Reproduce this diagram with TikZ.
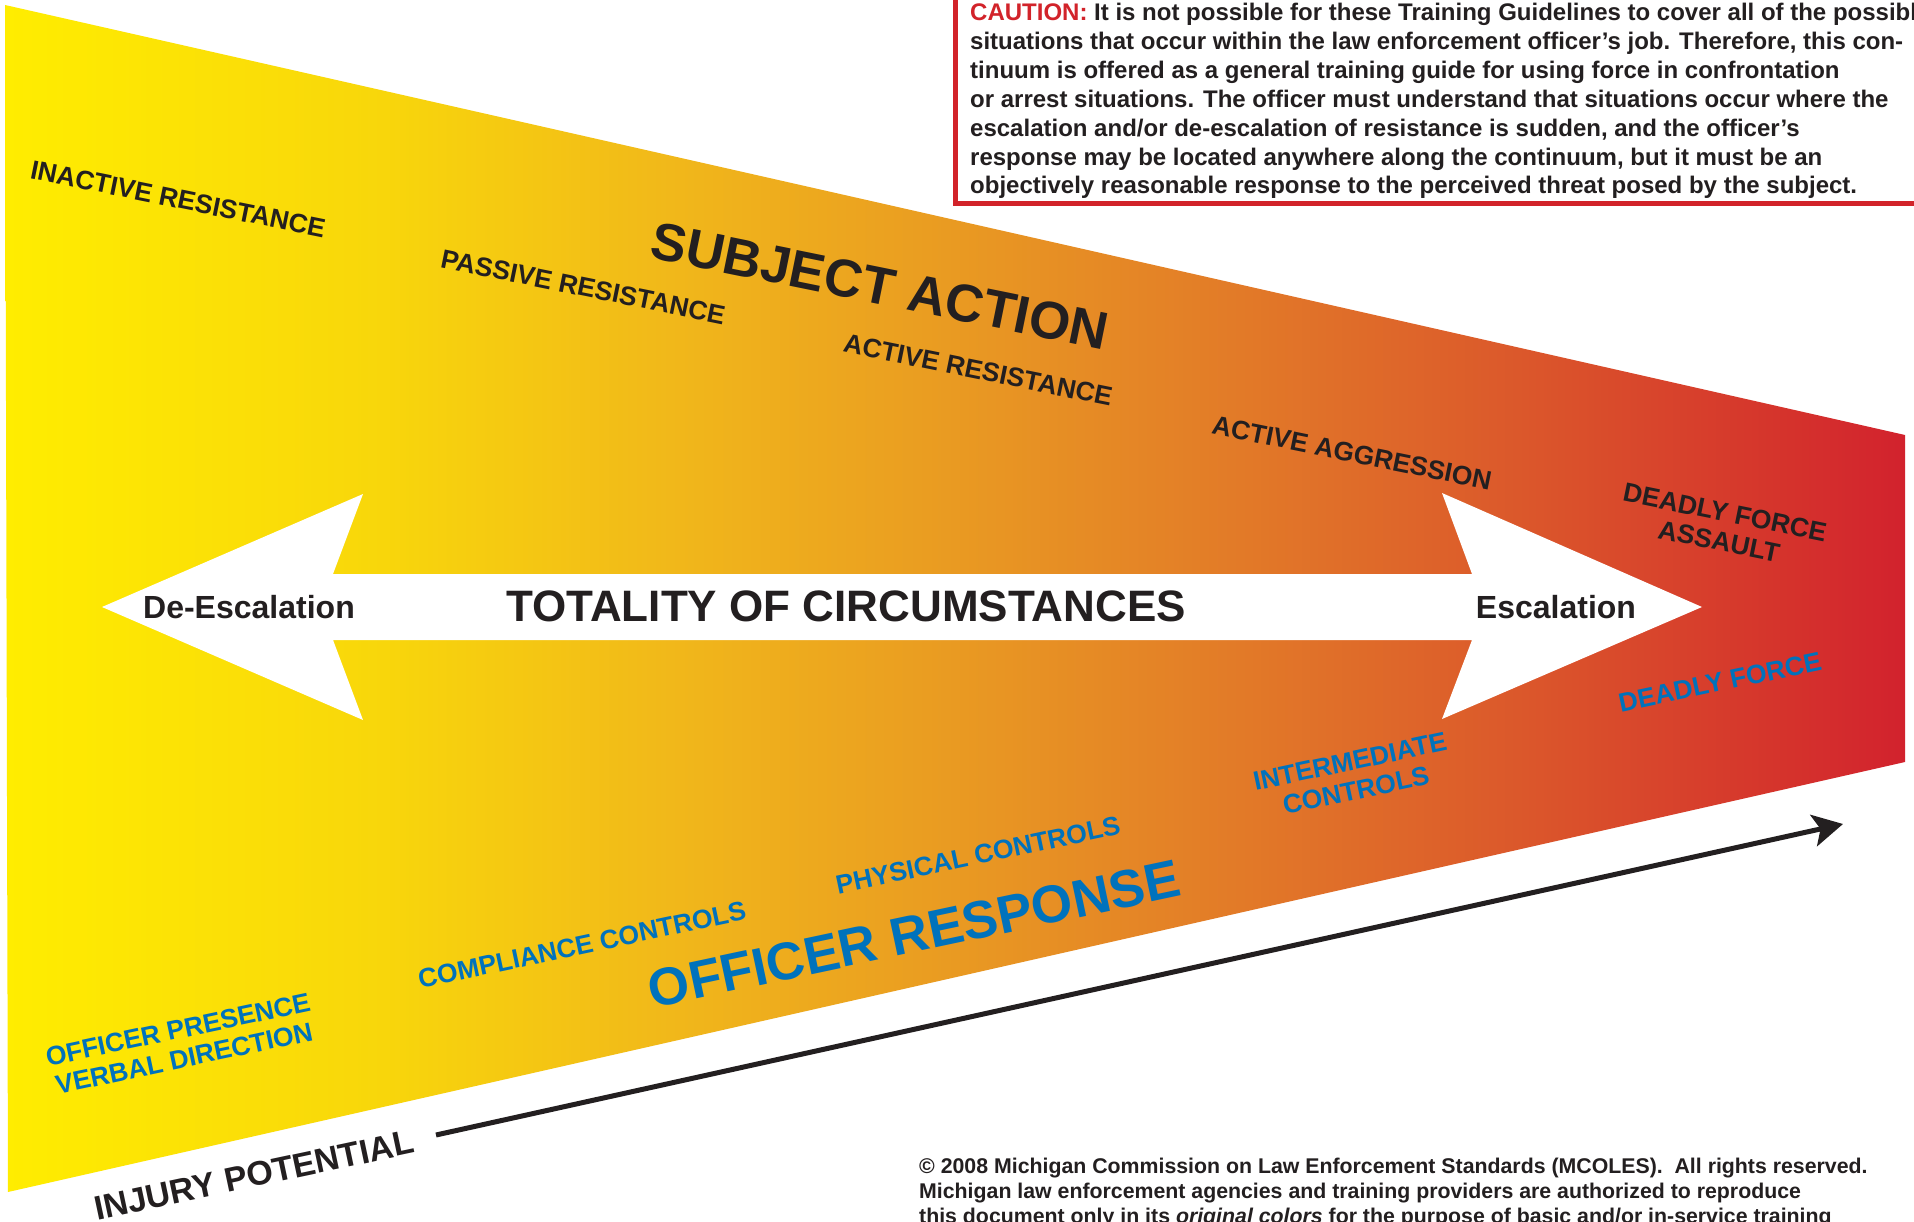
\documentclass[tikz,border=0pt]{standalone}
\usepackage{fontspec}
\setmainfont{Liberation Sans}
\usetikzlibrary{arrows.meta}
\definecolor{ink}{HTML}{231F20}
\definecolor{mblue}{HTML}{0072BC}
\definecolor{cred}{HTML}{D2232A}
\definecolor{g0}{HTML}{FFED00}
\definecolor{g1}{HTML}{F8D60B}
\definecolor{g2}{HTML}{F1B81A}
\definecolor{g3}{HTML}{E99A22}
\definecolor{g4}{HTML}{E27A28}
\definecolor{g5}{HTML}{DB572B}
\definecolor{g6}{HTML}{D2222D}
\pgfdeclarehorizontalshading{contgrad}{100bp}{color(0bp)=(g0); color(25bp)=(g0); color(35bp)=(g1); color(42.5bp)=(g2); color(50bp)=(g3); color(57.5bp)=(g4); color(65bp)=(g5); color(75bp)=(g6); color(100bp)=(g6)}
\tikzset{
  lbl/.style={font=\fontsize{26.5}{29.5}\selectfont\bfseries, inner sep=0pt, align=center},
  blk/.style={lbl, text=ink, rotate=-11.5},
  blu/.style={lbl, text=mblue, rotate=12},
  bigblk/.style={blk, font=\fontsize{53}{60}\selectfont\bfseries},
  bigblu/.style={blu, font=\fontsize{53}{60}\selectfont\bfseries},
  arrtxt/.style={inner sep=0pt, text=ink, font=\fontsize{32}{36}\selectfont\bfseries},
  notetxt/.style={inner sep=0pt, text=ink, align=left, anchor=north west}
}
\begin{document}
\begin{tikzpicture}[x=1pt,y=-1pt]
\useasboundingbox (0,0) rectangle (1914,1222);
\clip (0,0) rectangle (1914,1222);
\fill[white] (0,0) rectangle (1914,1222);
% continuum band
\shade[shading=contgrad] (5,5) -- (1905,435) -- (1905,762) -- (8,1192) -- cycle;
% double arrow
\fill[white] (102,607) -- (363,494) -- (333,574) -- (1472,574) -- (1442,493) -- (1702,607)
  -- (1442,719) -- (1472,640) -- (333,640) -- (363,720) -- cycle;
\node[arrtxt] (deesc) at (249,607) {De-Escalation};
\node[arrtxt] (esc) at (1556,607) {Escalation};
\node[arrtxt, font=\fontsize{44}{48}\selectfont\bfseries] (total) at (846,606) {TOTALITY OF CIRCUMSTANCES};
% subject action labels
\node[blk] (inact) at (178,199) {INACTIVE RESISTANCE};
\node[blk] (passive) at (583,287) {PASSIVE RESISTANCE};
\node[bigblk] (subject) at (880,286) {SUBJECT ACTION};
\node[blk] (activeres) at (978,370) {ACTIVE RESISTANCE};
\node[blk] (aggr) at (1352,453) {ACTIVE AGGRESSION};
\node[blk] (dfassault) at (1722,527) {DEADLY FORCE\\ASSAULT};
% officer response labels
\node[blu] (presence) at (181,1044) {OFFICER PRESENCE\\VERBAL DIRECTION};
\node[blu] (compliance) at (582,945) {COMPLIANCE CONTROLS};
\node[bigblu] (response) at (914,934) {OFFICER RESPONSE};
\node[blu] (physical) at (978,855) {PHYSICAL CONTROLS};
\node[blu] (intermediate) at (1353,776) {INTERMEDIATE\\CONTROLS};
\node[blu] (deadly) at (1720,682) {DEADLY FORCE};
% injury potential
\node[lbl, text=ink, rotate=12, font=\fontsize{34}{40}\selectfont\bfseries] (injury) at (254,1175) {INJURY POTENTIAL};
\coordinate (injS) at (436,1135);
\coordinate (injE) at (1843,824);
\draw[ink, line width=5pt, -{Stealth[length=30pt, width=32pt, inset=7pt]}] (injS) -- (injE);
% caution box
\draw[cred, line width=5pt] (955,-10) -- (955,204) -- (1930,204);
\node[notetxt, font=\fontsize{24}{28.9}\selectfont\bfseries] (caution) at (970,3)
{\textcolor{cred}{CAUTION:} It is not possible for these Training Guidelines to cover all of the possible\\
situations that occur within the law enforcement officer’s job. Therefore, this con-\\
tinuum is offered as a general training guide for using force in confrontation\\
or arrest situations. The officer must understand that situations occur where the\\
escalation and/or de-escalation of resistance is sudden, and the officer’s\\
response may be located anywhere along the continuum, but it must be an\\
objectively reasonable response to the perceived threat posed by the subject.};
% footer
\node[notetxt, font=\fontsize{21.3}{25}\selectfont\bfseries] (footer) at (919,1158)
{© 2008 Michigan Commission on Law Enforcement Standards (MCOLES).\ \ All rights reserved.\\
Michigan law enforcement agencies and training providers are authorized to reproduce\\
this document only in its \textit{original colors} for the purpose of basic and/or in-service training};
\end{tikzpicture}
\end{document}
